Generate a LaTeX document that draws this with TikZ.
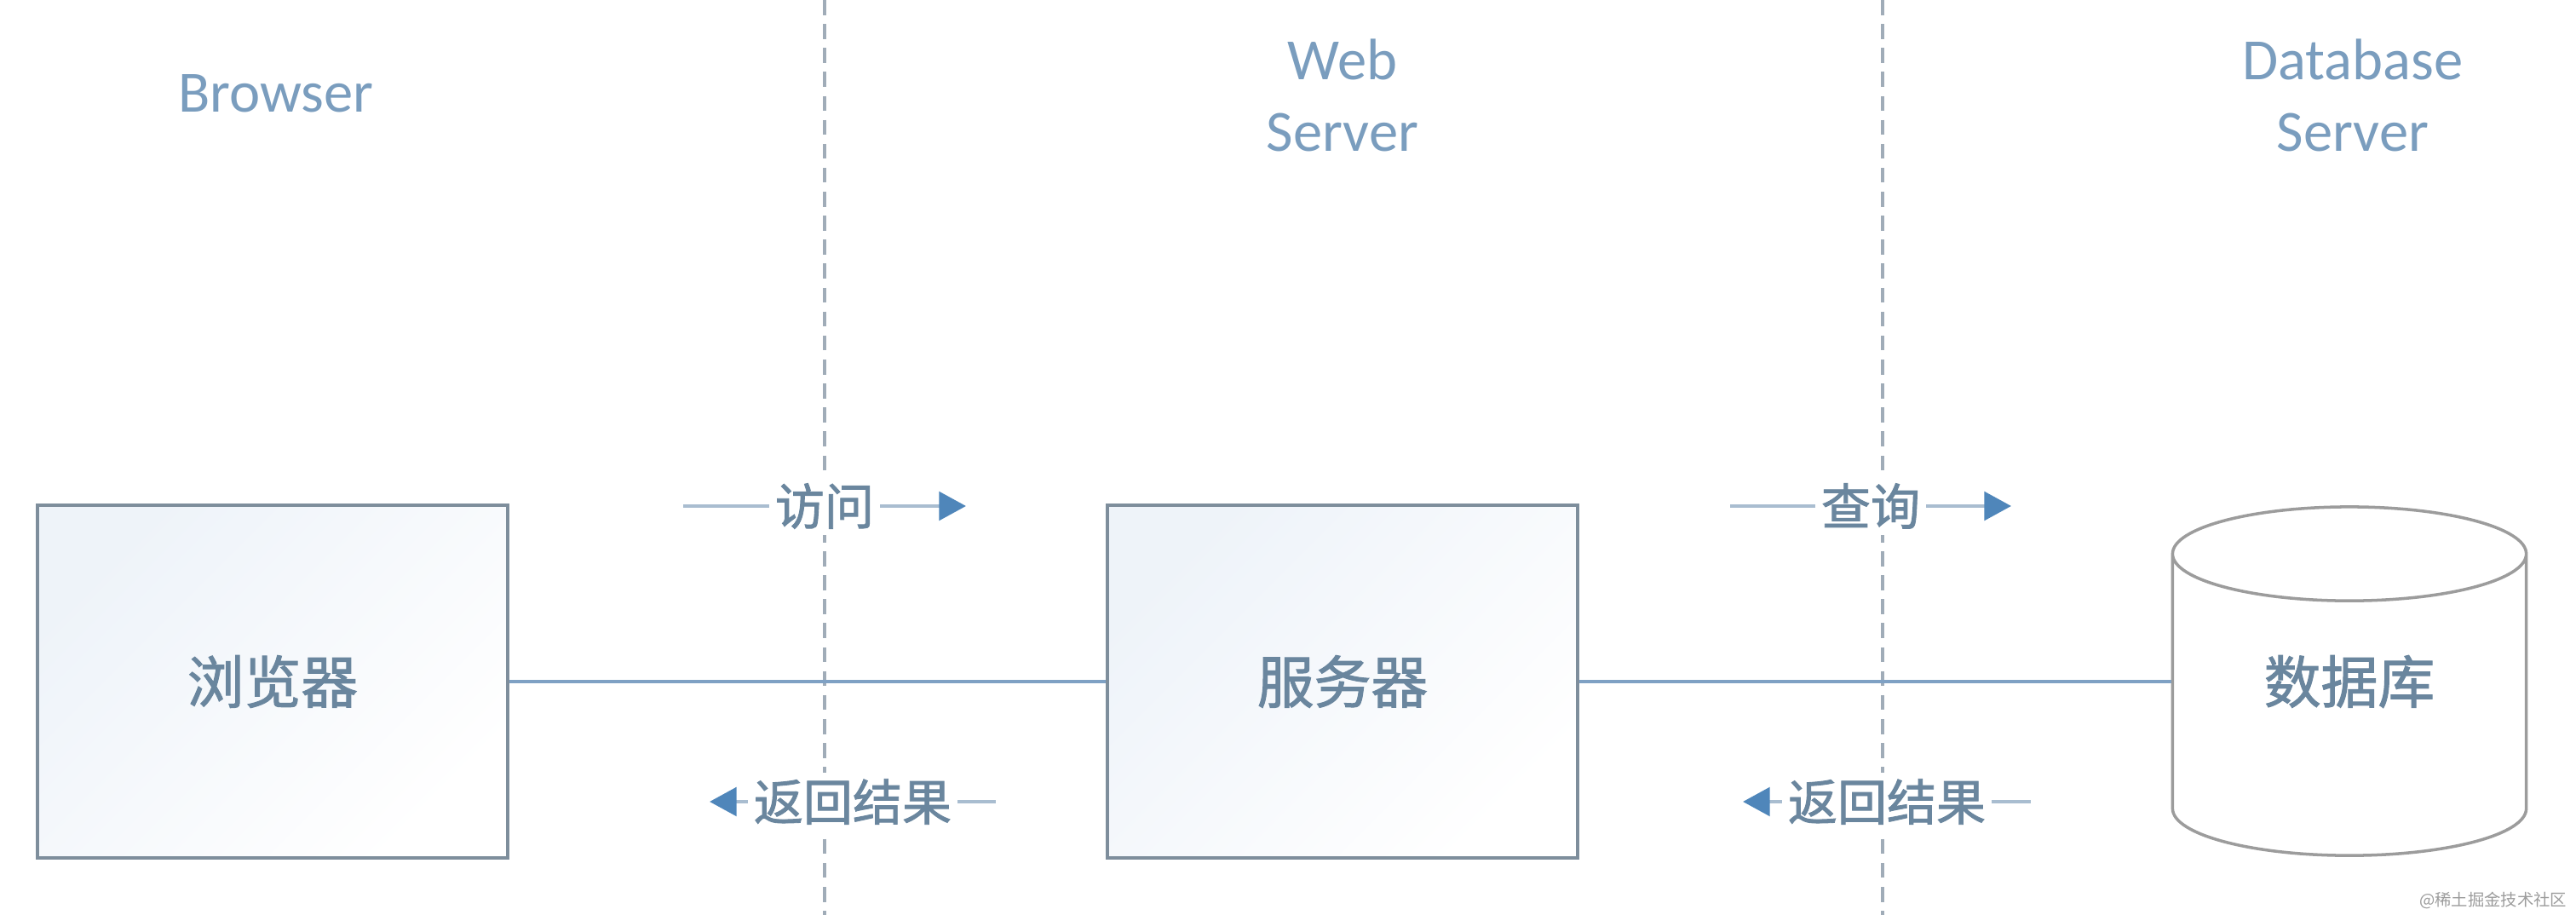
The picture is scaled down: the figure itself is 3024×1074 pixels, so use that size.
\documentclass[tikz,border=0pt]{standalone}
\usepackage{fontspec}
\setmainfont{Noto Sans CJK SC}
\newfontfamily\headfont{Carlito}
\newfontfamily\cjkmedium{Noto Sans CJK SC}[FakeBold=1.5]
\usepackage{tikz}
\usepackage{xcolor}
\usetikzlibrary{shapes.geometric, arrows.meta, positioning}
\definecolor{WebHead}{HTML}{7A9DBE}
\definecolor{WebText}{HTML}{6A869E}
\definecolor{WebLine}{HTML}{7FA1C4}
\definecolor{WebArrow}{HTML}{4F86BA}
\definecolor{WebFaint}{HTML}{A9BDD0}
\definecolor{WebDash}{HTML}{A0ACB8}
\definecolor{WebBorder}{HTML}{7E8E9C}
\definecolor{WebShade}{HTML}{EEF3F9}
\definecolor{WebGray}{HTML}{9C9C9C}
\tikzset{
    tier/.style={
        text=WebHead,
        font=\headfont\fontsize{19.5}{24}\selectfont,
        align=center,
        inner sep=0pt
    },
    box/.style={
        draw=WebBorder,
        line width=1.1pt,
        top color=WebShade,
        bottom color=white,
        shading angle=45,
        minimum width=5.52cm,
        minimum height=4.13cm,
        text=WebText,
        font=\cjkmedium\fontsize{19}{23}\selectfont,
        inner sep=0pt
    },
    dbbox/.style={
        cylinder,
        shape border rotate=90,
        aspect=0.55,
        draw=WebGray,
        line width=1pt,
        fill=white,
        minimum width=4.15cm,
        minimum height=4.09cm,
        font=\cjkmedium\fontsize{19}{23}\selectfont,
        inner sep=0pt
    },
    dbname/.style={
        text=WebText,
        font=\cjkmedium\fontsize{19}{23}\selectfont,
        inner sep=0pt,
        yshift=0.28cm
    },
    divider/.style={
        WebDash,
        line width=1.2pt,
        dash pattern=on 5pt off 3pt
    },
    link/.style={
        WebLine,
        line width=1pt
    },
    flow/.style={
        -{Triangle[length=9pt, width=9.5pt, color=WebArrow]},
        WebFaint,
        line width=1.2pt
    },
    flowlabel/.style={
        fill=white,
        text=WebText,
        font=\cjkmedium\fontsize{16.5}{20}\selectfont,
        inner sep=2pt
    },
    credit/.style={
        text=WebGray,
        font=\fontsize{5.5}{7}\selectfont,
        inner sep=0pt
    }
}

\begin{document}
\begin{tikzpicture}[x=0.01cm, y=-0.01cm]
        \useasboundingbox (0,0) rectangle (3024,1074);

        % Tier dividers
        \coordinate (d1top) at (968,0);
        \coordinate (d1bot) at (968,1074);
        \coordinate (d2top) at (2210,0);
        \coordinate (d2bot) at (2210,1074);
        \draw[divider] (d1top) -- (d1bot);
        \draw[divider] (d2top) -- (d2bot);

        % Tier headings
        \node[tier] (browserhead) at (324,110) {Browser};
        \node[tier] (webhead) at (1576,112) {Web\\Server};
        \node[tier] (dbhead) at (2762,112) {Database\\Server};

        % Tiers
        \node[box] (browser) at (320,800) {浏览器};
        \node[box] (server) at (1576,800) {服务器};
        \node[dbbox, label={[dbname]center:数据库}] (db) at (2758,828) {\phantom{数据库}};

        \draw[link] (browser.east) -- (server.west);
        \draw[link] (server.east) -- (server.east -| db.west);

        % Requests and replies
        \coordinate (visitA) at (802,594);
        \coordinate (visitB) at (1134,594);
        \coordinate (backA) at (1169,941);
        \coordinate (backB) at (833,941);
        \coordinate (queryA) at (2031,594);
        \coordinate (queryB) at (2361,594);
        \coordinate (resA) at (2384,941);
        \coordinate (resB) at (2046,941);
        \draw[flow] (visitA) -- node[flowlabel] (visit) {访问} (visitB);
        \draw[flow] (backA) -- node[flowlabel] (back) {返回结果} (backB);
        \draw[flow] (queryA) -- node[flowlabel] (query) {查询} (queryB);
        \draw[flow] (resA) -- node[flowlabel] (res) {返回结果} (resB);

        \node[credit, anchor=east] (src) at (3014,1057) {@稀土掘金技术社区};
    \end{tikzpicture}
\end{document}
